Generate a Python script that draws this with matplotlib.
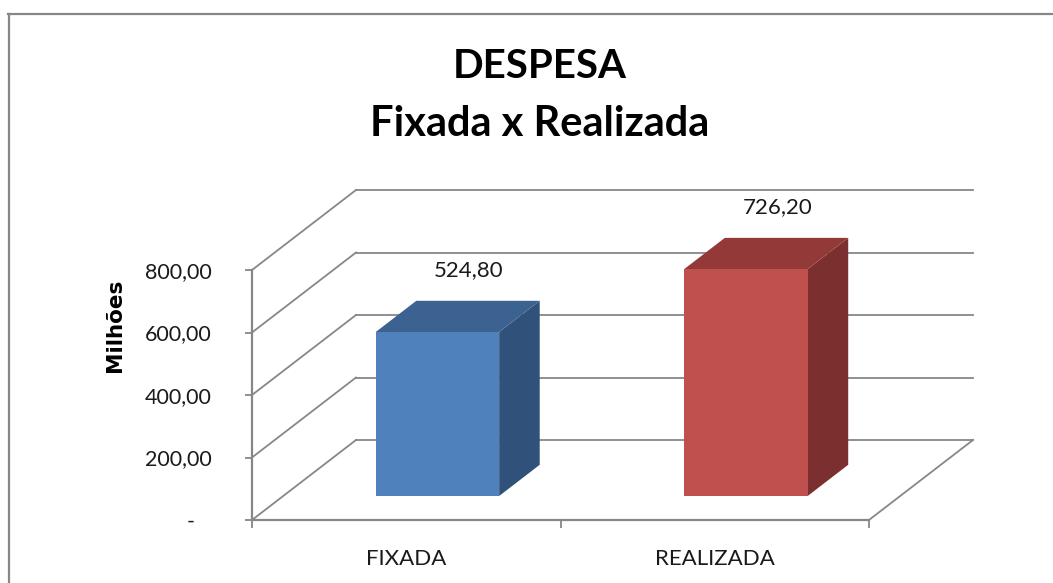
import matplotlib
matplotlib.use("Agg")
import matplotlib.pyplot as plt
from matplotlib.patches import Polygon
from matplotlib.lines import Line2D

# ---- data ----
categories = ["FIXADA", "REALIZADA"]
values = [524.80, 726.20]
y_ticks = [0, 200, 400, 600, 800]
y_tick_labels = ["-   ", "200,00", "400,00", "600,00", "800,00"]
value_labels = ["524,80", "726,20"]
title_line1 = "DESPESA"
title_line2 = "Fixada x Realizada"
y_label = "Milhões"

front_colors = ["#4F81BD", "#C0504D"]
top_colors = ["#3C6292", "#933A38"]
side_colors = ["#30527A", "#7B2F2E"]
grid_color = "#878787"

W, H = 1053, 583
fig = plt.figure(figsize=(W / 100, H / 100), dpi=100)
fig.patch.set_facecolor("white")

# axes geometry (pixels)
ax_left, ax_right, ax_bottom, ax_top = 252, 977, 520, 190
px_per_cat = 308.5
px_per_val = 62.5 / 200
ax = fig.add_axes([ax_left / W, (H - ax_bottom) / H,
                   (ax_right - ax_left) / W, (ax_bottom - ax_top) / H])
ax.set_xlim(0, (ax_right - ax_left) / px_per_cat)
ax.set_ylim(0, (ax_bottom - ax_top) / px_per_val)
ax.patch.set_visible(False)

# oblique depth offsets in data units
DX = 104 / px_per_cat
DY = 80 / px_per_val
n = len(categories)

lw = 1.3
# side wall diagonals + back wall gridlines
for v in y_ticks:
    ax.add_line(Line2D([0, DX], [v, v + DY], color=grid_color, lw=lw, clip_on=False, zorder=1))
    ax.add_line(Line2D([DX, n + DX], [v + DY, v + DY], color=grid_color, lw=lw, clip_on=False, zorder=1))
# floor right edge
ax.add_line(Line2D([n, n + DX], [0, DY], color=grid_color, lw=lw, clip_on=False, zorder=1))

# bars
bar_w = 0.4
d0, d1 = 0.30, 0.69
for i, v in enumerate(values):
    x0 = i + 0.5 - bar_w / 2
    x1 = i + 0.5 + bar_w / 2
    fx0, fx1 = x0 + d0 * DX, x1 + d0 * DX
    bx0, bx1 = x0 + d1 * DX, x1 + d1 * DX
    fy0, fy1 = d0 * DY, v + d0 * DY
    by0, by1 = d1 * DY, v + d1 * DY
    side = Polygon([(fx1, fy0), (bx1, by0), (bx1, by1), (fx1, fy1)],
                   closed=True, facecolor=side_colors[i], edgecolor="none", zorder=3, clip_on=False)
    top = Polygon([(fx0, fy1), (fx1, fy1), (bx1, by1), (bx0, by1)],
                  closed=True, facecolor=top_colors[i], edgecolor="none", zorder=3, clip_on=False)
    front = Polygon([(fx0, fy0), (fx1, fy0), (fx1, fy1), (fx0, fy1)],
                    closed=True, facecolor=front_colors[i], edgecolor="none", zorder=4, clip_on=False)
    for p in (side, top, front):
        ax.add_patch(p)
    cx = (fx0 + bx1) / 2
    ax.annotate(value_labels[i], xy=(cx, by1), xytext=(8, 22), textcoords="offset points",
                ha="center", va="center", fontsize=16, family="Lato", color="#1a1a1a",
                annotation_clip=False, zorder=5)

# spines / ticks
for s in ("top", "right"):
    ax.spines[s].set_visible(False)
ax.spines["left"].set_bounds(0, y_ticks[-1])
ax.spines["bottom"].set_bounds(0, n)
for s in ("left", "bottom"):
    ax.spines[s].set_color(grid_color)
    ax.spines[s].set_linewidth(1.6)
    ax.spines[s].set_zorder(2)

ax.set_yticks(y_ticks)
ax.set_yticklabels(y_tick_labels, fontsize=15.5, family="Lato", color="#1a1a1a")
ax.tick_params(axis="y", direction="out", length=5, width=1.3, color=grid_color, pad=24)

ax.set_xticks(range(n + 1))
ax.set_xticklabels([""] * (n + 1))
ax.set_xticks([i + 0.5 for i in range(n)], minor=True)
ax.set_xticklabels(categories, minor=True, fontsize=16, family="Lato", color="#1a1a1a")
ax.tick_params(axis="x", which="major", direction="out", length=6, width=1.3, color=grid_color)
ax.tick_params(axis="x", which="minor", length=0, pad=21)

# y label
fig.text(115 / W, 1 - 325 / H, y_label, rotation=90, ha="center", va="center",
         fontsize=15.5, fontweight="bold", family="DejaVu Sans", color="black")

# title
fig.text(540 / W, 1 - 67 / H, title_line1, ha="center", va="center",
         fontsize=29, fontweight="bold", family="Lato", color="black")
fig.text(540 / W, 1 - 124 / H, title_line2, ha="center", va="center",
         fontsize=30, fontweight="bold", family="Lato", color="black")

# chart border (partly cropped)
fig.add_artist(Line2D([8.5 / W, 8.5 / W], [0, 1 - 14 / H], transform=fig.transFigure,
                      color=grid_color, lw=1.6))
fig.add_artist(Line2D([7.5 / W, 1], [1 - 14 / H, 1 - 14 / H], transform=fig.transFigure,
                      color=grid_color, lw=1.6))

fig.savefig("out.png", dpi=100)
